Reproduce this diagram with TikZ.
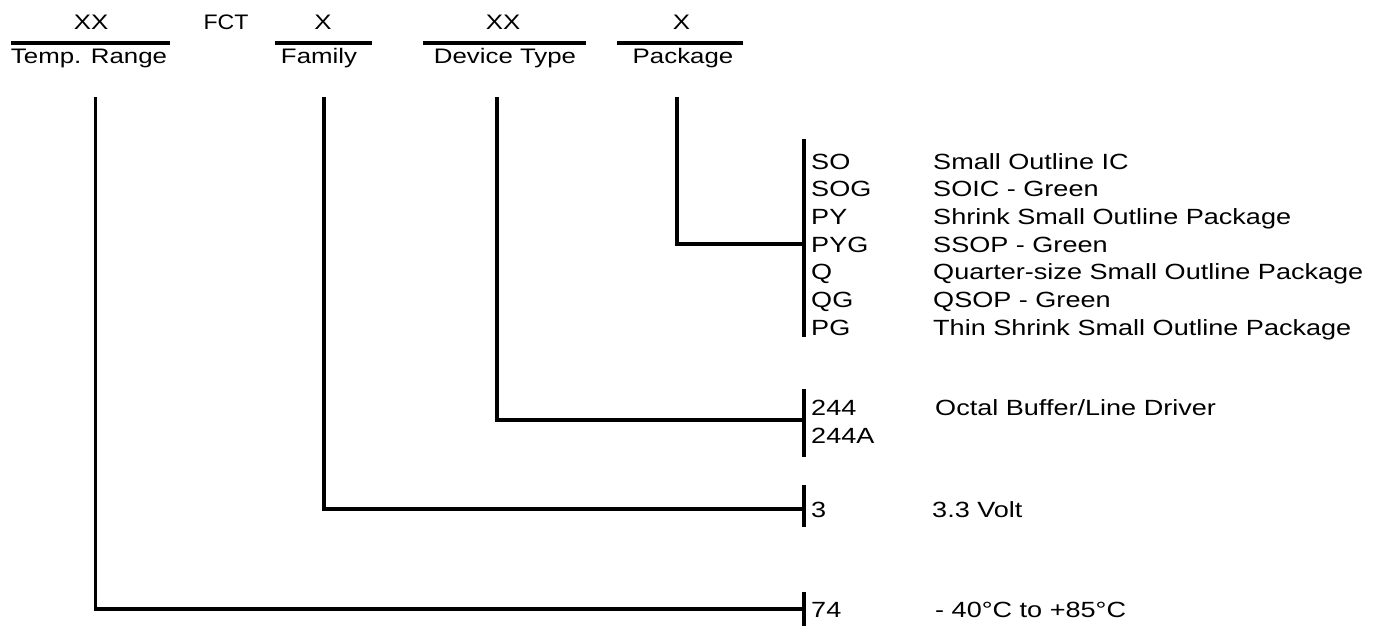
\documentclass[tikz,border=0pt]{standalone}
\usepackage{fontspec}
\setmainfont{Liberation Sans}
\newcommand{\wx}[1]{\scalebox{1.23}[1]{#1}}
\begin{document}
\begin{tikzpicture}[x=1pt,y=-1pt,
  lab/.style={font=\fontsize{21}{24}\selectfont, inner sep=0pt, anchor=base},
  code/.style={font=\fontsize{22}{26}\selectfont, inner sep=0pt, anchor=base west},
  rule/.style={line width=3.3pt},
  bar/.style={line width=4pt},
  conn/.style={line width=3.6pt}]
\useasboundingbox (0,0) rectangle (1378,626);

% header fields
\node[lab] (tXX) at (91,29.5) {\wx{XX}};
\draw[rule] (11,43) -- (170,43);
\node[lab] (tTR) at (89,63.5) {\wx{Temp. Range}};
\node[lab] (fct) at (226,29.5) {\scalebox{1.1}[1]{FCT}};
\node[lab] (fX) at (323,29.5) {\wx{X}};
\draw[rule] (275,43) -- (372,43);
\node[lab] (fam) at (319,63.5) {\wx{Family}};
\node[lab] (dXX) at (503,29.5) {\wx{XX}};
\draw[rule] (423,43) -- (586,43);
\node[lab] (dev) at (505,63.5) {\wx{Device Type}};
\node[lab] (pX) at (681.5,29.5) {\wx{X}};
\draw[rule] (617,43) -- (743,43);
\node[lab] (pkg) at (683,63.5) {\wx{Package}};

% bars
\draw[bar] (803.7,139) -- (803.7,337);
\draw[bar] (803.7,389) -- (803.7,457);
\draw[bar] (803.7,485) -- (803.7,527);
\draw[bar] (803.7,592) -- (803.7,626);

% connectors
\coordinate (sP) at (677,97);  \coordinate (bP) at (803.7,244);
\coordinate (sD) at (497,97);  \coordinate (bD) at (803.7,420);
\coordinate (sF) at (323.7,97); \coordinate (bF) at (803.7,509);
\coordinate (sT) at (95.3,97); \coordinate (bT) at (803.7,609);
\draw[conn] (sP) |- (bP);
\draw[conn] (sD) |- (bD);
\draw[conn] (sF) |- (bF);
\draw[conn] (sT) |- (bT);

% package codes
\node[code] (c1) at (811,169) {\wx{SO}};
\node[code] (c2) at (811,196.7) {\wx{SOG}};
\node[code] (c3) at (811,224.3) {\wx{PY}};
\node[code] (c4) at (811,252) {\wx{PYG}};
\node[code] (c5) at (811,279.7) {\wx{Q}};
\node[code] (c6) at (811,307.3) {\wx{QG}};
\node[code] (c7) at (811,335) {\wx{PG}};
\node[code] (d1) at (933,169) {\wx{Small Outline IC}};
\node[code] (d2) at (933,196.7) {\wx{SOIC - Green}};
\node[code] (d3) at (933,224.3) {\wx{Shrink Small Outline Package}};
\node[code] (d4) at (933,252) {\wx{SSOP - Green}};
\node[code] (d5) at (933,279.7) {\wx{Quarter-size Small Outline Package}};
\node[code] (d6) at (933,307.3) {\wx{QSOP - Green}};
\node[code] (d7) at (933,335) {\wx{Thin Shrink Small Outline Package}};

% device codes
\node[code] (c8) at (811,415) {\wx{244}};
\node[code] (c9) at (811,443) {\wx{244A}};
\node[code] (d8) at (935,415) {\wx{Octal Buffer/Line Driver}};

% family
\node[code] (c10) at (811,517) {\wx{3}};
\node[code] (d10) at (932,517) {\wx{3.3 Volt}};

% temp
\node[code] (c11) at (811,617) {\wx{74}};
\node[code] (d11) at (935,617) {\wx{- 40°C to +85°C}};
\end{tikzpicture}
\end{document}
